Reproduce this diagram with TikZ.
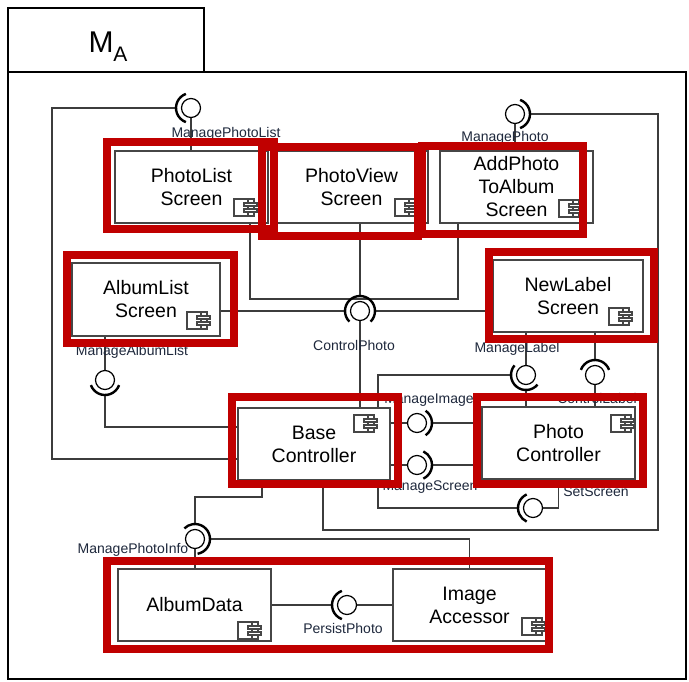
\documentclass[tikz,border=0pt]{standalone}
\usepackage{fontspec}
\setmainfont{Liberation Sans}
\usetikzlibrary{calc,backgrounds}
\definecolor{hlred}{RGB}{192,0,0}
\definecolor{lbltxt}{RGB}{30,40,60}
\definecolor{boxgray}{RGB}{70,70,70}
\definecolor{conngray}{RGB}{60,60,60}
\newcommand{\socketarc}[3]{\draw[sock, y=1pt] ([shift={(#2:15)}]#1.center) arc[start angle=#2, end angle=#3, radius=15];}
\begin{document}
\begin{tikzpicture}[x=1pt,y=-1pt,
  comp/.style={draw=boxgray, line width=1.3pt, fill=white, minimum width=153pt, minimum height=72pt, inner sep=0pt, align=center, font=\fontsize{19.5}{23}\selectfont},
  conn/.style={draw=conngray, line width=1.2pt},
  ball/.style={circle, draw=black, line width=1.2pt, minimum size=19pt, inner sep=0pt, fill=white},
  sock/.style={draw=black, line width=2.4pt},
  lbl/.style={font=\fontsize{14}{16}\selectfont, text=lbltxt, inner sep=0pt},
  hl/.style={draw=hlred, line width=8pt},
  icn/.style={draw=boxgray, line width=1.1pt},
  compicon/.pic={
    \draw[icn, fill=white] (0,0) rectangle (20,17);
    \draw[icn] (14,0) -- (14,17);
    \draw[icn, fill=white] (10,4) rectangle (23,7);
    \draw[icn, fill=white] (10,10) rectangle (23,13);
  }]
\useasboundingbox (0,0) rectangle (689,681);

% frame
\draw[line width=2pt] (8,8) rectangle (204,72);
\draw[line width=2pt] (8,72) rectangle (686,679);
\node[font=\fontsize{30}{32}\selectfont, anchor=base, inner sep=0pt] (ttl) at (108,52) {M\raisebox{-9pt}{\fontsize{21}{22}\selectfont A}};

% components
\node[comp] (pl) at (191.5,187) {PhotoList\\Screen};
\node[comp] (pv) at (351.5,187) {PhotoView\\Screen};
\node[comp] (ap) at (516.5,187) {AddPhoto\\ToAlbum\\Screen};
\node[comp, minimum width=148pt, minimum height=73pt] (al) at (146,299.5) {AlbumList\\Screen};
\node[comp, minimum width=150pt] (nl) at (568,296) {NewLabel\\Screen};
\node[comp, minimum width=152pt] (bc) at (314,444) {Base\\Controller};
\node[comp] (pc) at (558.5,443) {Photo\\Controller};
\node[comp] (ad) at (194.5,605) {AlbumData};
\node[comp] (ia) at (469.5,605) {Image\\Accessor};

% icons
\pic at (234,199) {compicon};
\pic at (395,199) {compicon};
\pic at (559,200) {compicon};
\pic at (187,312) {compicon};
\pic at (609,308) {compicon};
\pic at (354,415) {compicon};
\pic at (611,415) {compicon};
\pic at (238,622) {compicon};
\pic at (522,618) {compicon};

% interface balls
\node[ball] (mpl) at (191,108) {};
\node[ball] (mp)  at (515,114) {};
\node[ball] (cp)  at (360,311) {};
\node[ball] (mal) at (105,380) {};
\node[ball] (mlb) at (526,375) {};
\node[ball] (clb) at (595,375) {};
\node[ball] (mim) at (417,423) {};
\node[ball] (msc) at (417,465) {};
\node[ball] (ssc) at (533,508) {};
\node[ball] (mpi) at (195,539) {};
\node[ball] (pp)  at (347,605) {};

% sockets
\socketarc{mpl}{110}{250}
\socketarc{mp}{-70}{70}
\socketarc{cp}{-45}{225}
\socketarc{mal}{200}{340}
\socketarc{mlb}{140}{320}
\socketarc{clb}{20}{160}
\socketarc{mim}{-55}{55}
\socketarc{msc}{-65}{65}
\socketarc{ssc}{115}{245}
\socketarc{mpi}{-80}{135}
\socketarc{pp}{110}{250}

% connectors behind everything
\begin{pgfonlayer}{background}
\fill[white] (0,0) rectangle (689,681);
% ManagePhotoList
\draw[conn] (bc.west |- 0,459) -| (52,108) -- ([xshift=-15pt]mpl.center);
\draw[conn] (mpl.south) -- (mpl.south |- pl.north);
% ManagePhoto
\draw[conn] (bc.south -| 323,0) -- (323,530) -| (658,114) -- ([xshift=15pt]mp.center);
\draw[conn] (mp.south) -- (mp.south |- ap.north);
% ControlPhoto
\draw[conn] (pl.south -| 250,0) |- (458,299) -- (ap.south -| 458,0);
\draw[conn] (pv.south -| cp.center) -- ([yshift=15pt]cp.center);
\draw[conn] (al.east |- cp.center) -- ([xshift=-15pt]cp.center);
\draw[conn] (nl.west |- cp.center) -- ([xshift=15pt]cp.center);
\draw[conn] (cp.south) -- (cp.south |- bc.north);
% ManageAlbumList
\draw[conn] (al.south -| mal.center) -- (mal.north);
\draw[conn] ([yshift=-15pt]mal.center) |- (bc.west |- 0,427);
% ManageLabel
\draw[conn] (nl.south -| mlb.center) -- (mlb.north);
\draw[conn] ([xshift=-15pt]mlb.center) -| (bc.north -| 378,0);
\draw[conn] ([yshift=-15pt]mlb.center) -- (pc.north -| mlb.center);
% ControlLabel
\draw[conn] (nl.south -| clb.center) -- ([yshift=15pt]clb.center);
\draw[conn] (clb.south) -- (pc.north -| clb.center);
% ManageImage / ManageScreen
\draw[conn] (bc.east |- mim.center) -- (mim.west);
\draw[conn] ([xshift=15pt]mim.center) -- (pc.west |- mim.center);
\draw[conn] (bc.east |- msc.center) -- (msc.west);
\draw[conn] ([xshift=15pt]msc.center) -- (pc.west |- msc.center);
% SetScreen
\draw[conn] (bc.south -| 378,0) |- ([xshift=-15pt]ssc.center);
\draw[conn] (ssc.east) -| (pc.south);
% ManagePhotoInfo
\draw[conn] (bc.south -| 262,0) -- (262,497) -| ([yshift=15pt]mpi.center);
\draw[conn] ([xshift=15pt]mpi.center) -| (ia.north);
\draw[conn] (mpi.south) -- (ad.north -| mpi.center);
% PersistPhoto
\draw[conn] (ad.east |- pp.center) -- ([xshift=-15pt]pp.center);
\draw[conn] (pp.east) -- (ia.west |- pp.center);
\end{pgfonlayer}

% labels
\node[lbl] (lmpl) at (226,134) {ManagePhotoList};
\node[lbl] (lmp)  at (505,138) {ManagePhoto};
\node[lbl] (lcp)  at (354,345) {ControlPhoto};
\node[lbl] (lmal) at (132,352) {ManageAlbumList};
\node[lbl] (lmlb) at (517,349) {ManageLabel};
\node[lbl] (lclb) at (597,398) {ControlLabel};
\node[lbl] (lmim) at (429,400) {ManageImage};
\node[lbl] (lmsc) at (430,487) {ManageScreen};
\node[lbl] (lssc) at (596,492) {SetScreen};
\node[lbl] (lmpi) at (133,550) {ManagePhotoInfo};
\node[lbl] (lpp)  at (343,628) {PersistPhoto};

% red highlight frames
\draw[hl] (107,142) rectangle (274,229);
\draw[hl] (262,147) rectangle (418,236);
\draw[hl] (422,146) rectangle (583,234);
\draw[hl] (67,255) rectangle (234,343);
\draw[hl] (489,252) rectangle (654,339);
\draw[hl] (232,397) rectangle (398,484);
\draw[hl] (477,397) rectangle (643,484);
\draw[hl] (107,561) rectangle (549,649);
\end{tikzpicture}
\end{document}
